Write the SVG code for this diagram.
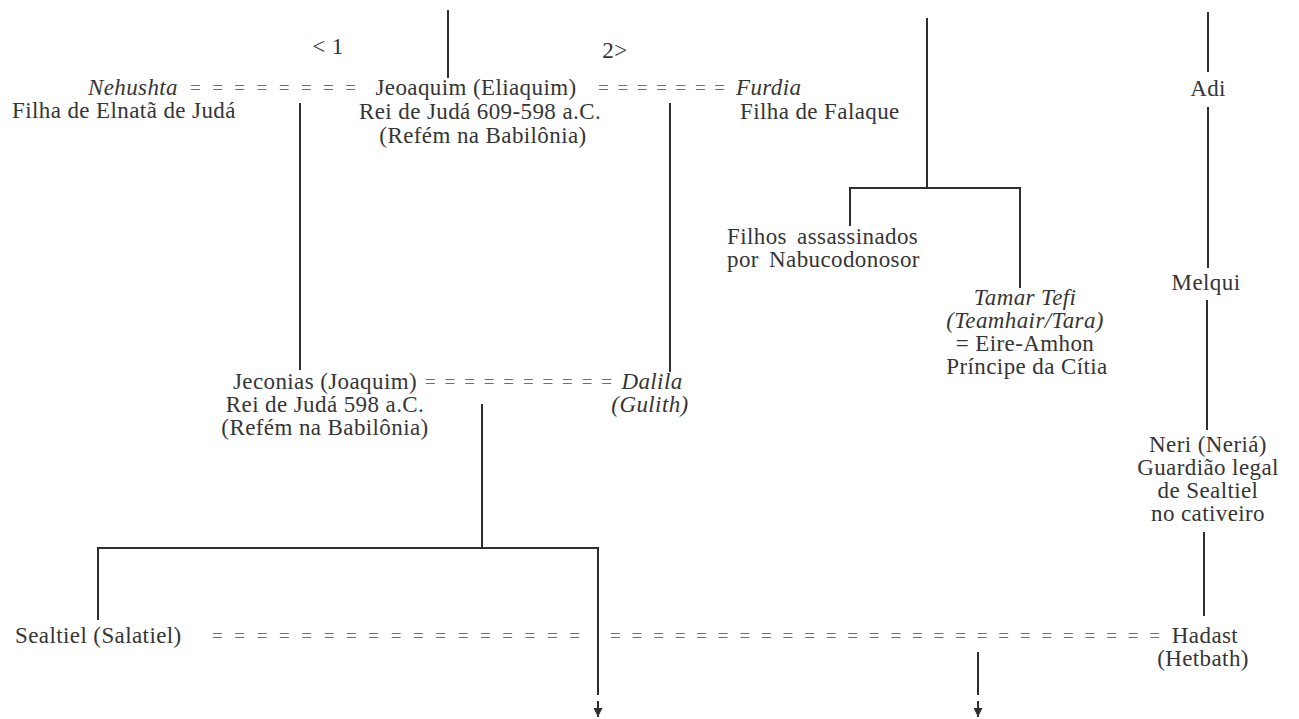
<svg xmlns="http://www.w3.org/2000/svg" width="1299" height="719" viewBox="0 0 1299 719">
<defs>
<style>
text{font-family:"Liberation Serif","Times New Roman",serif;font-size:23px;letter-spacing:0.4px;fill:#353535}
.i{font-style:italic}
.m{text-anchor:middle}
.eq{font-size:19px;letter-spacing:0;fill:#6e6e6e}
.ln{stroke:#2e2e2e;stroke-width:2;fill:none}
</style>
<marker id="ah" viewBox="0 0 10 10" refX="10" refY="5" markerWidth="9" markerHeight="9" markerUnits="userSpaceOnUse" orient="auto">
<path d="M0,0 L10,5 L0,10 z" fill="#2e2e2e"/>
</marker>
</defs>
<rect width="1299" height="719" fill="#ffffff"/>
<g id="connectors">
<line class="ln" x1="448" y1="10" x2="448" y2="78"/>
<line class="ln" x1="300" y1="103" x2="300" y2="370"/>
<line class="ln" x1="670" y1="103" x2="670" y2="372"/>
<line class="ln" x1="927" y1="18" x2="927" y2="188"/>
<polyline class="ln" points="850,226 850,188 1020,188 1020,288"/>
<line class="ln" x1="1208" y1="12" x2="1208" y2="72"/>
<line class="ln" x1="1208" y1="107" x2="1208" y2="268"/>
<line class="ln" x1="1207" y1="300" x2="1207" y2="430"/>
<line class="ln" x1="1204" y1="532" x2="1204" y2="616"/>
<line class="ln" x1="482" y1="404" x2="482" y2="548"/>
<polyline class="ln" points="98,620 98,548 598,548 598,695"/>
<line class="ln" x1="598" y1="701" x2="598" y2="717" marker-end="url(#ah)"/>
<line class="ln" x1="978" y1="652" x2="978" y2="695"/>
<line class="ln" x1="978" y1="701" x2="978" y2="717" marker-end="url(#ah)"/>
<text class="eq" x="190" y="94" textLength="166">= = = = = = = =</text>
<text class="eq" x="598" y="94" textLength="127">= = = = = = =</text>
<text class="eq" x="425" y="388" textLength="187">= = = = = = = = = =</text>
<text class="eq" x="212" y="642" textLength="368">= = = = = = = = = = = = = = = = =</text>
<text class="eq" x="610" y="642" textLength="550">= = = = = = = = = = = = = = = = = = = = = = = = = =</text>
</g>
<g id="n-marks">
<text class="m" x="328" y="54">&lt; 1</text>
<text class="m" x="615" y="58">2&gt;</text>
</g>
<g id="n-nehushta">
<text class="i" x="178" y="95" text-anchor="end">Nehushta</text>
<text x="12" y="118">Filha de Elnatã de Judá</text>
</g>
<g id="n-jeoaquim">
<text class="m" x="476" y="95">Jeoaquim (Eliaquim)</text>
<text class="m" x="480" y="119">Rei de Judá 609-598 a.C.</text>
<text class="m" x="483" y="143">(Refém na Babilônia)</text>
</g>
<g id="n-furdia">
<text class="i" x="736" y="95">Furdia</text>
<text x="740" y="119">Filha de Falaque</text>
</g>
<g id="n-adi">
<text class="m" x="1208" y="96">Adi</text>
</g>
<g id="n-filhos">
<text x="727" y="244" word-spacing="4">Filhos assassinados</text>
<text x="727" y="267" word-spacing="4">por Nabucodonosor</text>
</g>
<g id="n-tamar">
<text class="i m" x="1025" y="305">Tamar Tefi</text>
<text class="i m" x="1025" y="328">(Teamhair/Tara)</text>
<text class="m" x="1025" y="351">= Eire-Amhon</text>
<text class="m" x="1027" y="374">Príncipe da Cítia</text>
</g>
<g id="n-melqui">
<text class="m" x="1206" y="290">Melqui</text>
</g>
<g id="n-jeconias">
<text class="m" x="325" y="389">Jeconias (Joaquim)</text>
<text class="m" x="325" y="412">Rei de Judá 598 a.C.</text>
<text class="m" x="325" y="435">(Refém na Babilônia)</text>
</g>
<g id="n-dalila">
<text class="i m" x="652" y="389">Dalila</text>
<text class="i m" x="650" y="412">(Gulith)</text>
</g>
<g id="n-neri">
<text class="m" x="1208" y="452">Neri (Neriá)</text>
<text class="m" x="1208" y="475">Guardião legal</text>
<text class="m" x="1208" y="498">de Sealtiel</text>
<text class="m" x="1208" y="521">no cativeiro</text>
</g>
<g id="n-sealtiel">
<text x="15" y="643">Sealtiel (Salatiel)</text>
</g>
<g id="n-hadast">
<text class="m" x="1205" y="643">Hadast</text>
<text class="m" x="1203" y="666">(Hetbath)</text>
</g>
</svg>
